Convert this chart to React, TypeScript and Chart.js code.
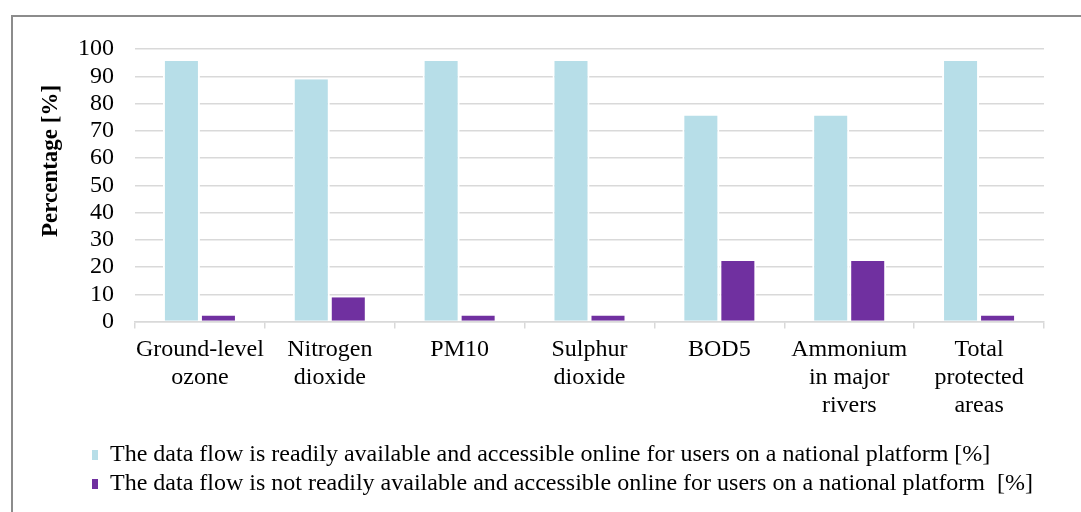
import React, { useEffect, useRef } from "react";
import { Chart, registerables } from "chart.js";

Chart.register(...registerables);

const categories: string[][] = [
  ["Ground-level", "ozone"],
  ["Nitrogen", "dioxide"],
  ["PM10"],
  ["Sulphur", "dioxide"],
  ["BOD5"],
  ["Ammonium", "in major", "rivers"],
  ["Total", "protected", "areas"],
];
const availableValues = [95.6, 88.9, 95.6, 95.6, 75.6, 75.6, 95.6];
const notAvailableValues = [2.2, 8.9, 2.2, 2.2, 22.2, 22.2, 2.2];
const seriesLabels = [
  "The data flow is readily available and accessible online for users on a national platform [%]",
  "The data flow is not readily available and accessible online for users on a national platform  [%]",
];
const yTitle = "Percentage [%]";
const yTickMin = 0;
const yTickMax = 100;
const yTickStep = 10;

const FONT = "'Liberation Serif', 'Times New Roman', serif";

const legendShift = {
  id: "legendShift",
  beforeDraw(chart: any) {
    if (chart.legend) chart.legend.left = 87;
  },
};

// Draws the y-axis title (Excel places it slightly above the plot centre)
const yAxisTitle = {
  id: "yAxisTitle",
  afterDraw(chart: any) {
    const ctx = chart.ctx;
    ctx.save();
    ctx.translate(51, 161);
    ctx.rotate(-Math.PI / 2);
    ctx.font = `bold 23px ${FONT}`;
    ctx.fillStyle = "#000";
    ctx.textAlign = "center";
    ctx.textBaseline = "middle";
    ctx.fillText(yTitle, 0, 0);
    ctx.restore();
  },
};

export default function App() {
  const ref = useRef<HTMLCanvasElement | null>(null);

  useEffect(() => {
    if (!ref.current) return;
    Chart.defaults.color = "#000";
    const chart = new Chart(ref.current, {
      type: "bar",
      data: {
        labels: categories,
        datasets: [
          {
            label: seriesLabels[0],
            data: availableValues,
            backgroundColor: "#b7dee8",
            borderColor: "#ffffff",
            borderWidth: { left: 2, right: 2, top: 0, bottom: 0 },
            borderSkipped: false,
          },
          {
            label: seriesLabels[1],
            data: notAvailableValues,
            backgroundColor: "#7030a0",
            borderColor: "#ffffff",
            borderWidth: { left: 2, right: 2, top: 0, bottom: 0 },
            borderSkipped: false,
          },
        ],
      },
      options: {
        responsive: false,
        animation: false,
        datasets: {
          bar: { categoryPercentage: 0.57, barPercentage: 1 },
        },
        layout: { padding: { left: 37, right: 37, top: 49, bottom: 6 } },
        plugins: {
          tooltip: { enabled: false },
          legend: {
            position: "bottom",
            align: "start",
            labels: {
              boxWidth: 6,
              boxHeight: 10,
              padding: 5,
              color: "#000",
              font: { family: FONT, size: 24 },
              generateLabels: (c: any) =>
                Chart.defaults.plugins.legend.labels
                  .generateLabels(c)
                  .map((l: any) => ({ ...l, lineWidth: 0 })),
            },
          },
        },
        scales: {
          x: {
            offset: true,
            afterFit: (scale: any) => {
              scale.height = 116.5;
            },
            grid: {
              offset: true,
              drawOnChartArea: false,
              drawTicks: true,
              tickLength: 7,
              color: "#d9d9d9",
              lineWidth: 1.5,
            },
            border: { display: true, color: "#d9d9d9", width: 1.5 },
            ticks: {
              autoSkip: false,
              maxRotation: 0,
              minRotation: 0,
              padding: 7.5,
              color: "#000",
              font: { family: FONT, size: 24, lineHeight: 1.17 },
            },
          },
          y: {
            min: yTickMin,
            max: yTickMax,
            afterFit: (scale: any) => {
              scale.width = 98;
            },
            grid: {
              drawTicks: false,
              color: "#d9d9d9",
              lineWidth: 1.5,
            },
            border: { display: false },
            ticks: {
              autoSkip: false,
              stepSize: yTickStep,
              padding: 21,
              color: "#000",
              font: { family: FONT, size: 24 },
            },
            title: { display: false },
          },
        },
      },
      plugins: [legendShift, yAxisTitle],
    } as any);
    return () => chart.destroy();
  }, []);

  return (
    <div
      style={{
        position: "absolute",
        left: 0,
        top: 0,
        width: 1081,
        height: 512,
        overflow: "hidden",
        background: "#fff",
      }}
    >
      <div
        style={{
          position: "absolute",
          left: 11,
          top: 15,
          width: 1100,
          height: 540,
          border: "2px solid #8c8c8c",
          boxSizing: "border-box",
        }}
      />
      <canvas
        ref={ref}
        width={1081}
        height={512}
        style={{ position: "absolute", left: 0, top: 0, width: 1081, height: 512 }}
      />
    </div>
  );
}
